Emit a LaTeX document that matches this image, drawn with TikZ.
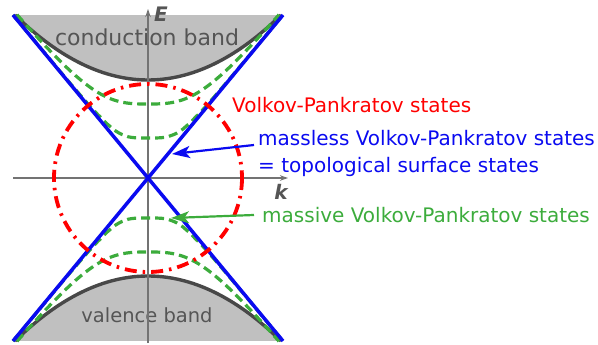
\documentclass[tikz,border=0pt]{standalone}
\usepackage{fontspec}
\setmainfont{DejaVu Sans}
\usetikzlibrary{arrows.meta}
\definecolor{bandfill}{RGB}{192,192,192}
\definecolor{bandline}{RGB}{72,72,72}
\definecolor{axisgray}{RGB}{115,115,115}
\definecolor{txtgray}{RGB}{85,85,85}
\definecolor{vpgreen}{RGB}{60,172,60}
\definecolor{vpblue}{RGB}{10,10,240}
\definecolor{vpred}{RGB}{255,0,0}
\tikzset{
  bandcurve/.style={draw=bandline,line width=3.4pt},
  axisline/.style={draw=axisgray,line width=1.2pt,-{Stealth[length=8pt,width=5.5pt]}},
  greendash/.style={draw=vpgreen,line width=3.2pt,dash pattern=on 9pt off 5pt},
  bluecone/.style={draw=vpblue,line width=3.5pt},
  redcirc/.style={draw=vpred,line width=3.8pt,dash pattern=on 12pt off 6pt on 2.5pt off 6pt},
  lbl/.style={anchor=west,inner sep=0pt,font=\fontsize{20}{22}\selectfont},
  pointer/.style={line width=2.2pt,-{Stealth[length=18pt,width=12pt,inset=4.5pt]}},
}
\begin{document}
\begin{tikzpicture}[x=1pt,y=-1pt]
\useasboundingbox (0,0) rectangle (598,345);
% bands, in units of 10pt
\begin{scope}[x=10pt,y=-10pt]
\fill[bandfill] plot[domain=-13.3:13.3,samples=80] ({14.8+\x},{8.0-0.03675*\x*\x}) -- cycle;
\fill[bandfill] plot[domain=-13.3:13.3,samples=80] ({14.8+\x},{27.6+0.03675*\x*\x}) -- cycle;
\draw[bandcurve] plot[domain=-13.3:13.3,samples=80] ({14.8+\x},{8.0-0.03675*\x*\x});
\draw[bandcurve] plot[domain=-13.3:13.3,samples=80] ({14.8+\x},{27.6+0.03675*\x*\x});
\end{scope}
\node[inner sep=0pt,text=txtgray,font=\fontsize{22}{24}\selectfont] (cb) at (147,37) {conduction band};
\node[inner sep=0pt,text=txtgray,font=\fontsize{19.5}{22}\selectfont] (vb) at (147,315) {valence band};
% axes
\coordinate (kL) at (13,178);
\coordinate (kR) at (288,178);
\coordinate (eB) at (148,343);
\coordinate (eT) at (148,9);
\draw[axisline] (kL) -- (kR);
\draw[axisline] (eB) -- (eT);
\node[inner sep=0pt,text=txtgray,font=\fontsize{20}{22}\selectfont\bfseries\itshape] (E) at (161,14) {E};
\node[inner sep=0pt,text=txtgray,font=\fontsize{20}{22}\selectfont\bfseries\itshape] (k) at (281,192) {k};
% massive VP states, in units of 100pt
\begin{scope}[x=100pt,y=-100pt]
\draw[greendash] plot[domain=-1.31:1.31,samples=90] ({1.48+\x},{1.78-(0.405+(abs(1.207*\x))^3)^(1/3)});
\draw[greendash] plot[domain=-1.35:1.35,samples=90] ({1.48+\x},{1.78-(0.0256+(abs(1.207*\x))^4)^(0.25)});
\draw[greendash] plot[domain=-1.31:1.31,samples=90] ({1.48+\x},{1.78+(0.405+(abs(1.207*\x))^3)^(1/3)});
\draw[greendash] plot[domain=-1.35:1.35,samples=90] ({1.48+\x},{1.78+(0.0256+(abs(1.207*\x))^4)^(0.25)});
\end{scope}
% massless cone
\coordinate (TL) at (13,15);
\coordinate (TR) at (283,15);
\coordinate (BL) at (13,341);
\coordinate (BR) at (283,341);
\draw[bluecone] (TL) -- (BR);
\draw[bluecone] (TR) -- (BL);
% VP circle
\coordinate (O) at (148,178);
\draw[redcirc] (O) circle (94);
% labels
\node[lbl,text=vpred] (vp) at (232,105) {Volkov-Pankratov states};
\node[lbl,text=vpblue] (mless) at (258,138) {massless Volkov-Pankratov states};
\node[lbl,text=vpblue] (topo) at (258,167) {= topological surface states};
\node[lbl,text=vpgreen] (mive) at (262,215) {massive Volkov-Pankratov states};
\coordinate (bstart) at (254,145);
\coordinate (btip) at (172,154);
\coordinate (gstart) at (254,215);
\coordinate (gtip) at (171,218);
\draw[pointer,vpblue] (bstart) -- (btip);
\draw[pointer,vpgreen] (gstart) -- (gtip);
\end{tikzpicture}
\end{document}
